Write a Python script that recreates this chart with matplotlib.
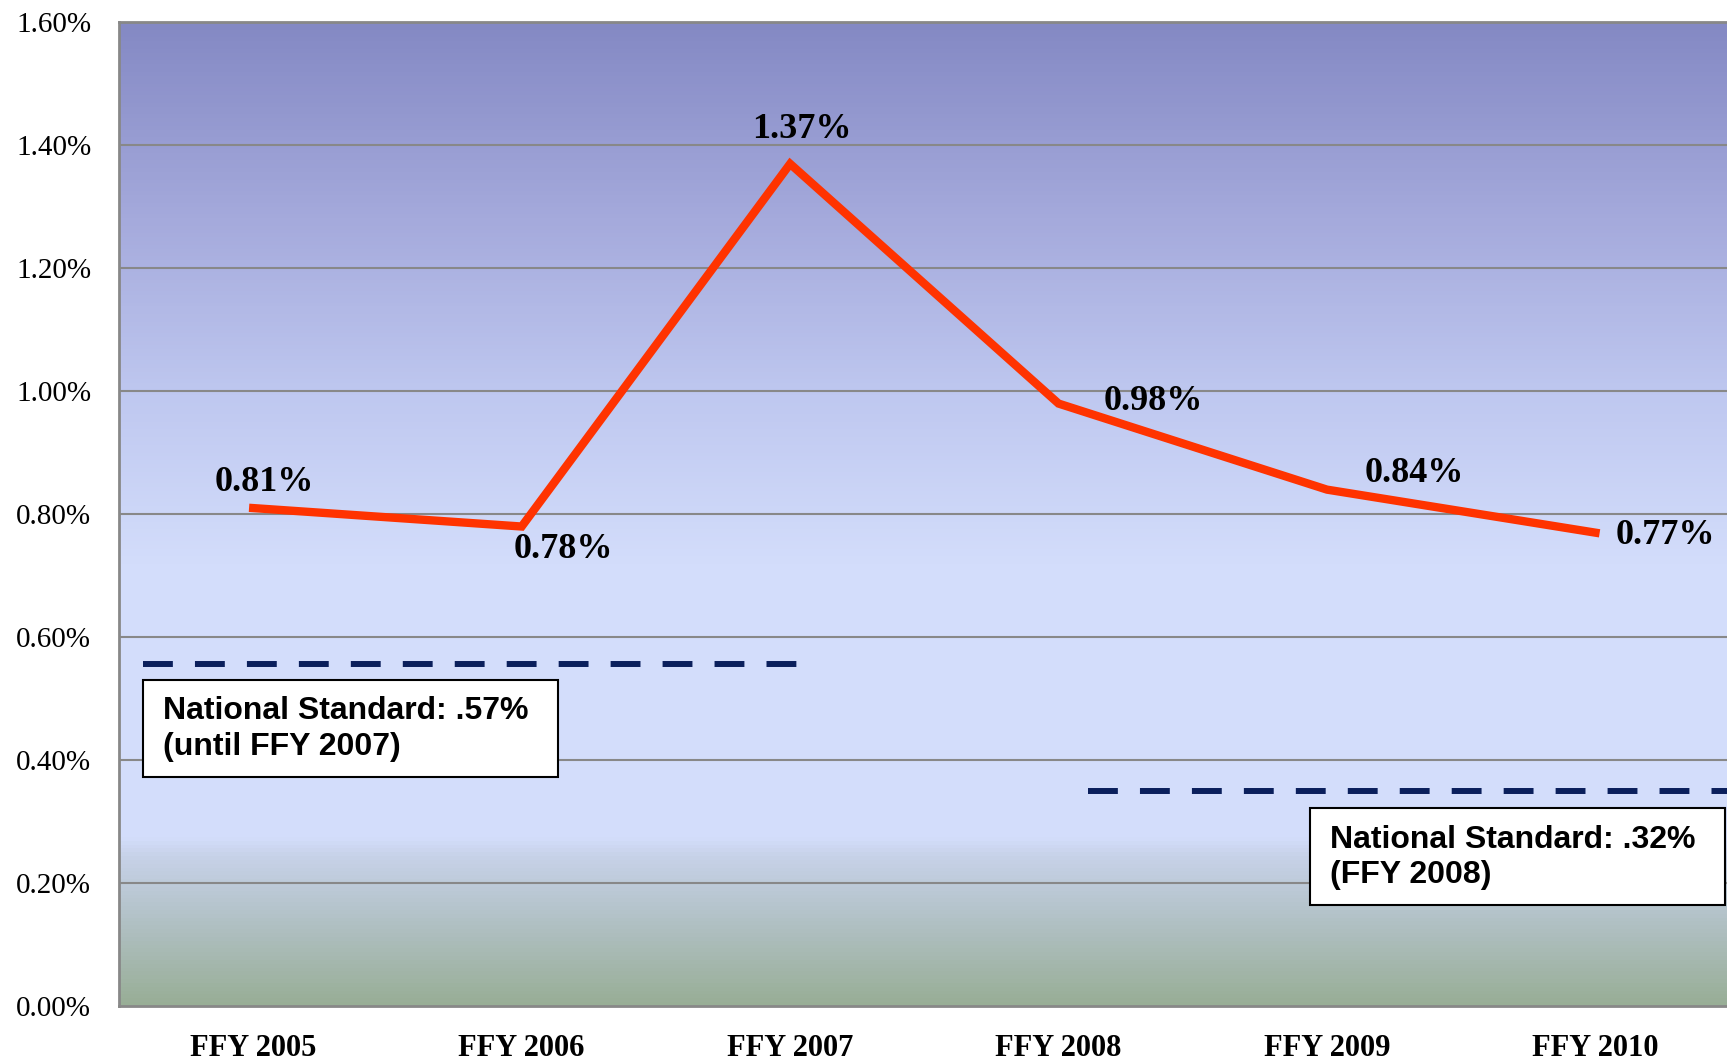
import numpy as np
import matplotlib
matplotlib.use('Agg')
import matplotlib.pyplot as plt
from matplotlib.colors import LinearSegmentedColormap
from matplotlib.patches import Rectangle

years = ['FFY 2005', 'FFY 2006', 'FFY 2007', 'FFY 2008', 'FFY 2009', 'FFY 2010']
rates = [0.81, 0.78, 1.37, 0.98, 0.84, 0.77]
rate_labels = ['0.81%', '0.78%', '1.37%', '0.98%', '0.84%', '0.77%']
yticks = [0.0, 0.2, 0.4, 0.6, 0.8, 1.0, 1.2, 1.4, 1.6]

# national standard lines (x start/end in category units, level)
std1_x = [-0.41, 2.03]
std1_y = 0.557
std1_text = 'National Standard: .57%\n(until FFY 2007)'
std2_x = [3.11, 5.49]
std2_y = 0.35
std2_text = 'National Standard: .32%\n(FFY 2008)'

serif = ['Liberation Serif', 'DejaVu Serif']
sans = ['Liberation Sans', 'DejaVu Sans']

fig = plt.figure(figsize=(17.27, 10.63), dpi=100)
ax = fig.add_axes([0.0689, 0.0536, 0.9311, 0.9253])

# background gradient, bottom -> top
stops = [(0.0, '#98ae96'), (0.09, '#b3c2c8'), (0.15, '#c7d2e8'), (0.17, '#d3ddfb'),
         (0.45, '#d3ddfb'), (0.62, '#bfc8f0'), (0.8, '#a5aadc'), (1.0, '#8489c4')]
cmap = LinearSegmentedColormap.from_list('bg', stops)
grad = np.linspace(0, 1, 256).reshape(-1, 1)
ax.imshow(grad, cmap=cmap, origin='lower', aspect='auto',
          extent=[-0.5, 5.49, 0, 1.6], zorder=0)

x = np.arange(len(years))
ax.set_xlim(-0.5, 5.49)
ax.set_ylim(0, 1.6)

for t in yticks[1:]:
    ax.axhline(t, color='#888888', lw=1.5, zorder=1)

ax.plot(std1_x, [std1_y, std1_y], color='#0a1f5c', lw=4.3, dashes=(5, 3.7), zorder=2)
ax.plot(std2_x, [std2_y, std2_y], color='#0a1f5c', lw=4.3, dashes=(5, 3.7), zorder=2)

ax.plot(x, rates, color='#ff3300', lw=6, zorder=3, solid_joinstyle='miter')

offsets = [(11, 26), (42, -23), (12, 34), (95, 2), (87, 16), (70, -3)]
for xi, yi, lab, off in zip(x, rates, rate_labels, offsets):
    ax.annotate(lab, (xi, yi), xytext=off, textcoords='offset pixels',
                ha='center', va='center', fontsize=26, fontweight='bold',
                family=serif, zorder=4)

# standard boxes
ax.add_patch(Rectangle((-0.41, 0.373), 1.546, 0.157, facecolor='white',
                       edgecolor='black', lw=1.5, zorder=4))
ax.text(-0.336, 0.451, std1_text, ha='left', va='center', fontsize=23,
        fontweight='bold', family=sans, linespacing=1.25, zorder=5)
ax.add_patch(Rectangle((3.938, 0.165), 1.546, 0.1575, facecolor='white',
                       edgecolor='black', lw=1.5, zorder=4, clip_on=False))
ax.text(4.011, 0.2417, std2_text, ha='left', va='center', fontsize=23,
        fontweight='bold', family=sans, linespacing=1.25, zorder=5)

ax.set_yticks(yticks)
ax.set_yticklabels(['%.2f%%' % t for t in yticks], family=serif, fontsize=21)
ax.set_xticks(x)
ax.set_xticklabels(years, family=serif, fontsize=22, fontweight='bold')
ax.tick_params(axis='y', length=0, pad=20)
ax.tick_params(axis='x', length=0, pad=20)

for s in ['left', 'bottom', 'top']:
    ax.spines[s].set_color('#888888')
    ax.spines[s].set_linewidth(2)
ax.spines['right'].set_visible(False)

fig.savefig('out.png', dpi=100)
